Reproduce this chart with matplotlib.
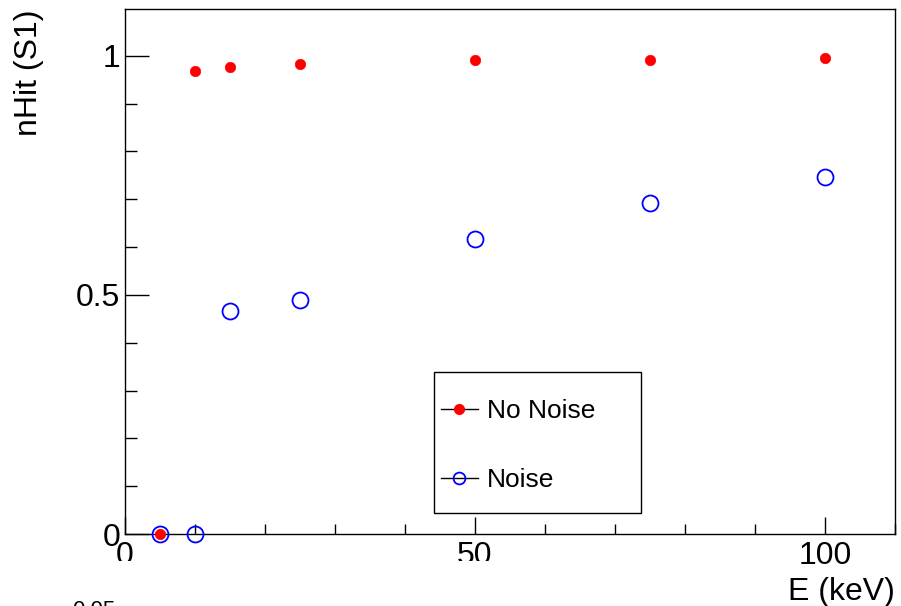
import matplotlib
matplotlib.use('Agg')
import matplotlib.pyplot as plt
from matplotlib.lines import Line2D
from matplotlib.patches import Rectangle
from matplotlib.ticker import MultipleLocator, FormatStrFormatter

plt.rcParams['font.family'] = ['Liberation Sans', 'DejaVu Sans']

# data
energy = [5, 10, 15, 25, 50, 75, 100]
hit_no_noise = [0.0, 0.968, 0.976, 0.983, 0.992, 0.992, 0.996]
hit_noise = [0.0, 0.0, 0.467, 0.490, 0.617, 0.692, 0.747]
labels = ['No Noise', 'Noise']

W, H = 901, 606
fig = plt.figure(figsize=(W / 100, H / 100), dpi=100)
ax = fig.add_axes([125 / W, (H - 534) / H, 770 / W, 525 / H])

ax.plot(energy, hit_noise, ls='none', marker='o', ms=11.5, mfc='none',
        mec='blue', mew=1.3, clip_on=False, zorder=3)
ax.plot(energy, hit_no_noise, ls='none', marker='o', ms=7.5, mfc='red',
        mec='red', mew=0.5, clip_on=False, zorder=4)

ax.set_xlim(0, 110)
ax.set_ylim(0, 1.098)

ax.xaxis.set_major_locator(MultipleLocator(50))
ax.xaxis.set_minor_locator(MultipleLocator(10))
ax.yaxis.set_major_locator(MultipleLocator(0.5))
ax.yaxis.set_minor_locator(MultipleLocator(0.1))
ax.xaxis.set_major_formatter(FormatStrFormatter('%g'))
ax.yaxis.set_major_formatter(FormatStrFormatter('%g'))

ax.tick_params(axis='x', which='major', direction='in', length=12.5, width=1,
               labelsize=23, pad=5, top=False)
ax.tick_params(axis='x', which='minor', direction='in', length=7, width=1, top=False)
ax.tick_params(axis='y', which='major', direction='in', length=17.5, width=1,
               labelsize=23, pad=3.5, right=False)
ax.tick_params(axis='y', which='minor', direction='in', length=8.6, width=1, right=False)
for s in ax.spines.values():
    s.set_linewidth(1.0)

ax.set_xlabel('E (keV)', fontsize=23, ha='right')
ax.xaxis.set_label_coords(1.0, -0.082)
ax.set_ylabel('nHit (S1)', fontsize=23, ha='right')
ax.yaxis.set_label_coords(-0.105, 1.0)

# legend
handles = [
    Line2D([], [], color='black', lw=1, marker='o', ms=7, mfc='red', mec='red'),
    Line2D([], [], color='black', lw=1, marker='o', ms=8.5, mfc='none', mec='blue', mew=1.3),
]
fig.add_artist(Rectangle((434 / W, (H - 513) / H), 207 / W, 141 / H,
                         transform=fig.transFigure, fill=False, ec='black', lw=1, zorder=5))
fig.legend(handles, labels, loc='center left',
           bbox_to_anchor=(441 / W, (H - 445.5) / H), bbox_transform=fig.transFigure,
           frameon=False, fontsize=19, handlelength=1.4, handletextpad=0.35,
           labelspacing=1.7, borderpad=0, borderaxespad=0)

# lower pad overlaps the bottom of the picture
fig.add_artist(Rectangle((0, 0), 780 / W, (H - 561) / H, transform=fig.transFigure,
                         fc='white', ec='none', zorder=10))
fig.text(72 / W, (H - 600) / H, '0.05', fontsize=16, ha='left', va='top', zorder=11)

fig.savefig('out.png', dpi=100)
